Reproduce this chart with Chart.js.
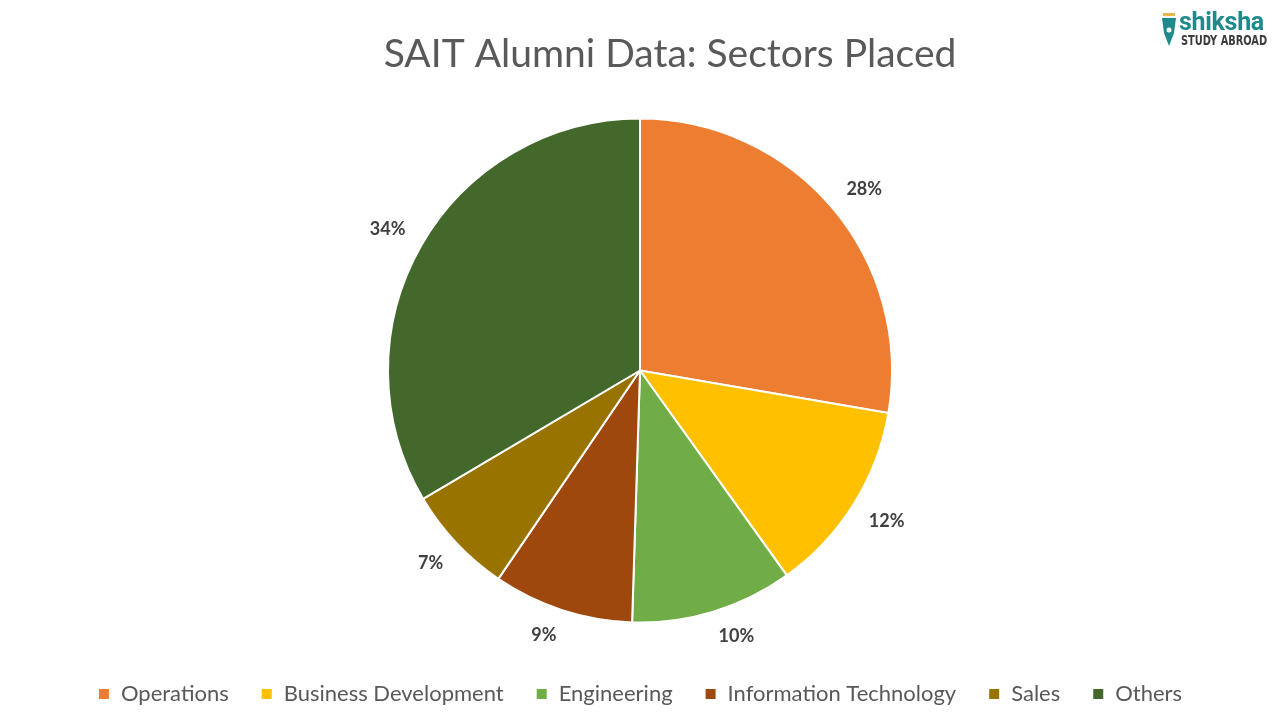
<!DOCTYPE html>
<html>
<head>
<meta charset="utf-8">
<script src="https://cdn.jsdelivr.net/npm/chart.js@4/dist/chart.umd.min.js"></script>
<style>
  html, body { margin: 0; padding: 0; background: #fff; }
  #wrap { position: relative; width: 1280px; height: 720px; }
  #logo { position: absolute; left: 1158px; top: 10px; font-family: "Roboto", sans-serif; }
  #logo .top { color: #1e8a8c; font-weight: bold; font-size: 25px; line-height: 23px; margin-left: 21px; letter-spacing: -0.3px; }
  #logo .bottom { color: #3c3c3c; font-family: "DejaVu Sans Condensed", "Roboto", sans-serif; font-weight: bold; font-size: 14px; line-height: 15px; margin-left: 23px; transform: scaleX(0.78); transform-origin: left; white-space: nowrap; }
  #logo svg { position: absolute; left: 2px; top: 3px; }
</style>
</head>
<body>
<div id="wrap">
  <canvas id="pie" width="1280" height="720"></canvas>
  <div id="logo">
    <svg width="18" height="34" viewBox="0 0 18 34">
      <rect x="3" y="0" width="12" height="3" fill="#e8b84a"/>
      <path d="M2 5 L16 5 L14 20 L9 33 L4 20 Z" fill="#1e8a8c"/>
      <circle cx="9" cy="17" r="2.5" fill="#fff"/>
    </svg>
    <div class="top">shiksha</div>
    <div class="bottom">STUDY ABROAD</div>
  </div>
</div>
<script>
const title = "SAIT Alumni Data: Sectors Placed";
const labels = ["Operations", "Business Development", "Engineering", "Information Technology", "Sales", "Others"];
const values = [27.7, 12.4, 10.4, 9.0, 7.0, 33.5];
const colors = ["#ED7D31", "#FFC000", "#70AD47", "#9E480E", "#997300", "#43682B"];

// titre dessiné à la main (décalé vers la droite comme dans l'original)
const titlePlugin = {
  id: "titlePlugin",
  afterDraw(chart) {
    const ctx = chart.ctx;
    ctx.save();
    ctx.font = "39px Lato, sans-serif";
    ctx.fillStyle = "#595959";
    ctx.textAlign = "center";
    ctx.textBaseline = "middle";
    ctx.fillText(title, 670, 54);
    ctx.restore();
  }
};

// étiquettes de pourcentage à l'extérieur du camembert
const outsideLabels = {
  id: "outsideLabels",
  afterDatasetsDraw(chart) {
    const ctx = chart.ctx;
    const meta = chart.getDatasetMeta(0);
    const total = values.reduce((a, b) => a + b, 0);
    ctx.save();
    ctx.font = "bold 18px Lato, sans-serif";
    ctx.fillStyle = "#404040";
    ctx.textAlign = "center";
    ctx.textBaseline = "middle";
    meta.data.forEach((arc, i) => {
      const p = arc.getProps(["startAngle", "endAngle", "outerRadius", "x", "y"], true);
      const mid = (p.startAngle + p.endAngle) / 2;
      const c = Math.cos(mid), s = Math.sin(mid);
      const pct = Math.round(values[i] / total * 100) + "%";
      const w = ctx.measureText(pct).width;
      const r = p.outerRadius + 18;
      const x = p.x + c * r + Math.sign(c) * (w / 2 + 0);
      const y = p.y + s * r + Math.sign(s) * 7.5;
      ctx.fillText(pct, x, y);
    });
    ctx.restore();
  }
};

new Chart(document.getElementById("pie"), {
  type: "pie",
  data: {
    labels: labels,
    datasets: [{
      data: values,
      backgroundColor: colors,
      borderColor: "#ffffff",
      borderWidth: 2
    }]
  },
  options: {
    responsive: false,
    animation: false,
    radius: 252,
    layout: { padding: { top: 90, bottom: 5, left: 0, right: 0 } },
    plugins: {
      legend: {
        position: "bottom",
        labels: {
          color: "#595959",
          font: { family: "Lato", size: 22 },
          boxWidth: 12,
          boxHeight: 12,
          padding: 32
        }
      },
      tooltip: { enabled: false }
    }
  },
  plugins: [outsideLabels, titlePlugin]
});
</script>
</body>
</html>
